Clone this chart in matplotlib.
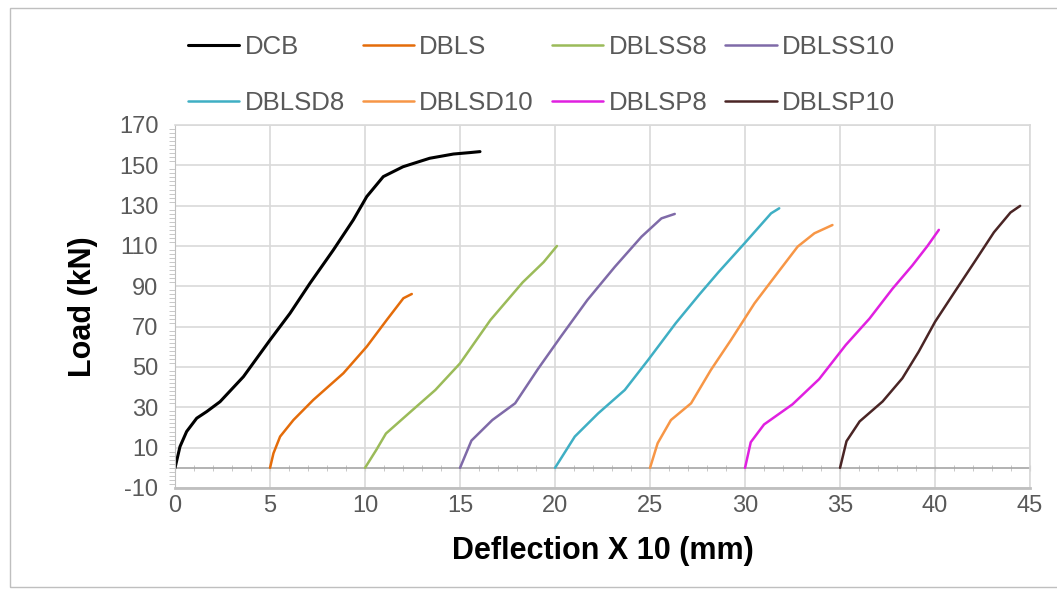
import matplotlib
matplotlib.use("Agg")
import matplotlib.pyplot as plt
from matplotlib.ticker import MultipleLocator
from matplotlib.patches import Rectangle

plt.rcParams['font.family'] = ['Liberation Sans', 'DejaVu Sans']
plt.rcParams['axes.unicode_minus'] = False

# deflection (x10 mm) / load (kN)
dcb_x = [0, 0.26, 0.61, 1.14, 1.67, 2.37, 3.6, 5.0, 6.05, 7.1, 8.33, 9.38, 10.09, 10.96, 12.0, 13.4, 14.65, 15.5, 16.05]
dcb_y = [0, 10.5, 18, 24.6, 27.9, 32.8, 45.2, 63.4, 76.6, 91.5, 108, 122.9, 134.5, 144.4, 149.3, 153.5, 155.6, 156.3, 156.8]
dbls_x = [5, 5.18, 5.53, 6.23, 7.28, 8.86, 10.09, 11.14, 12.02, 12.46]
dbls_y = [0, 7.2, 15.5, 23.7, 33.7, 46.9, 60.1, 73.3, 84.1, 86.2]
dblss8_x = [10, 10.6, 11.1, 12.3, 13.7, 15.0, 16.6, 18.3, 19.4, 20.1]
dblss8_y = [0, 9, 17, 27, 38.6, 51.8, 73.3, 92, 102, 110]
dblss10_x = [15, 15.6, 16.7, 17.9, 19.1, 20.3, 21.7, 23.15, 24.55, 25.6, 26.3]
dblss10_y = [0, 13.5, 23.7, 32, 49, 65, 83.2, 99.7, 114.6, 123.7, 125.9]
dblsd8_x = [20, 21.04, 22.27, 23.67, 24.9, 26.35, 27.6, 28.6, 29.97, 31.37, 31.8]
dblsd8_y = [0, 15.5, 27, 38.6, 53.5, 71.7, 86, 97, 111.3, 126.2, 128.7]
dblsd10_x = [25, 25.4, 26.1, 27.16, 28.2, 29.26, 30.5, 31.7, 32.77, 33.65, 34.6]
dblsd10_y = [0, 12.2, 23.7, 32, 48.5, 63.4, 81.6, 96.5, 109.7, 116.3, 120.4]
dblsp8_x = [30, 30.3, 31.0, 32.5, 33.9, 35.3, 36.55, 37.76, 38.8, 39.6, 40.2]
dblsp8_y = [0, 12.7, 21.5, 31.5, 44, 60.9, 74, 88.8, 100.3, 110, 118]
dblsp10_x = [35, 35.34, 36.03, 37.24, 38.28, 39.14, 40.0, 41.03, 42.07, 43.1, 43.97, 44.48]
dblsp10_y = [0, 13.2, 23, 32.9, 44.4, 57.6, 72.4, 87.2, 102, 116.8, 126.6, 129.9]

series = [
    ('DCB', dcb_x, dcb_y, '#000000', 2.2),
    ('DBLS', dbls_x, dbls_y, '#E46C0A', 1.8),
    ('DBLSS8', dblss8_x, dblss8_y, '#9BBB59', 1.8),
    ('DBLSS10', dblss10_x, dblss10_y, '#7F6AA8', 1.8),
    ('DBLSD8', dblsd8_x, dblsd8_y, '#3FAFC4', 1.8),
    ('DBLSD10', dblsd10_x, dblsd10_y, '#F79646', 1.8),
    ('DBLSP8', dblsp8_x, dblsp8_y, '#E020E0', 1.8),
    ('DBLSP10', dblsp10_x, dblsp10_y, '#4A2525', 1.8),
]

fig = plt.figure(figsize=(10.57, 5.91), dpi=100)
ax = fig.add_axes([0.1656, 0.1743, 0.8089, 0.6142])

lines = []
for name, xs, ys, c, lw in series:
    ln, = ax.plot(xs, ys, color=c, lw=lw, label=name,
                  solid_capstyle='round', solid_joinstyle='round')
    lines.append(ln)

ax.set_xlim(0, 45)
ax.set_ylim(-10, 170)
ax.set_xticks(range(0, 46, 5))
ax.set_yticks(range(-10, 171, 20))
ax.yaxis.set_minor_locator(MultipleLocator(2))
ax.grid(True, which='major', color='#D9D9D9', lw=1.2)
ax.set_axisbelow(True)

for s in ['top', 'right']:
    ax.spines[s].set_color('#D9D9D9')
    ax.spines[s].set_linewidth(1.2)
ax.spines['left'].set_color('#BFBFBF')
ax.spines['bottom'].set_color('#BFBFBF')
ax.spines['bottom'].set_linewidth(2)

ax.tick_params(axis='both', which='major', length=0, labelsize=17, colors='#595959')
ax.tick_params(axis='y', which='major', pad=12)
ax.tick_params(axis='x', which='major', pad=5)
ax.tick_params(axis='y', which='minor', length=4, color='#BFBFBF', direction='out')

# horizontal axis line at load = 0 with its small ticks
ax.axhline(0, color='#A6A6A6', lw=1.2, zorder=1)
sec = ax.secondary_xaxis(10 / 180)
sec.spines['bottom'].set_visible(False)
sec.set_xticks(range(0, 46, 5))
sec.xaxis.set_minor_locator(MultipleLocator(1))
sec.tick_params(axis='x', which='both', length=4, direction='inout', color='#BFBFBF', labelbottom=False)

ax.set_xlabel('Deflection X 10 (mm)', fontsize=22, fontweight='bold', labelpad=14)
ax.set_ylabel('Load (kN)', fontsize=22, fontweight='bold', labelpad=15)

# legend filled row by row like the original (matplotlib fills by column)
order = [0, 4, 1, 5, 2, 6, 3, 7]
fig.legend([lines[i] for i in order], [series[i][0] for i in order],
           loc='upper left', bbox_to_anchor=(188 / 1057, 1 - 35 / 591), ncol=4, frameon=False,
           fontsize=18.5, handlelength=2.0, handletextpad=0.2, columnspacing=0.7,
           labelspacing=1.25, borderpad=0, borderaxespad=0, labelcolor='#595959')

fig.patches.append(Rectangle((10 / 1057, 4 / 591), 1.1, 579 / 591, transform=fig.transFigure,
                             fill=False, edgecolor='#BFBFBF', lw=1))

fig.savefig('out.png', dpi=100)
